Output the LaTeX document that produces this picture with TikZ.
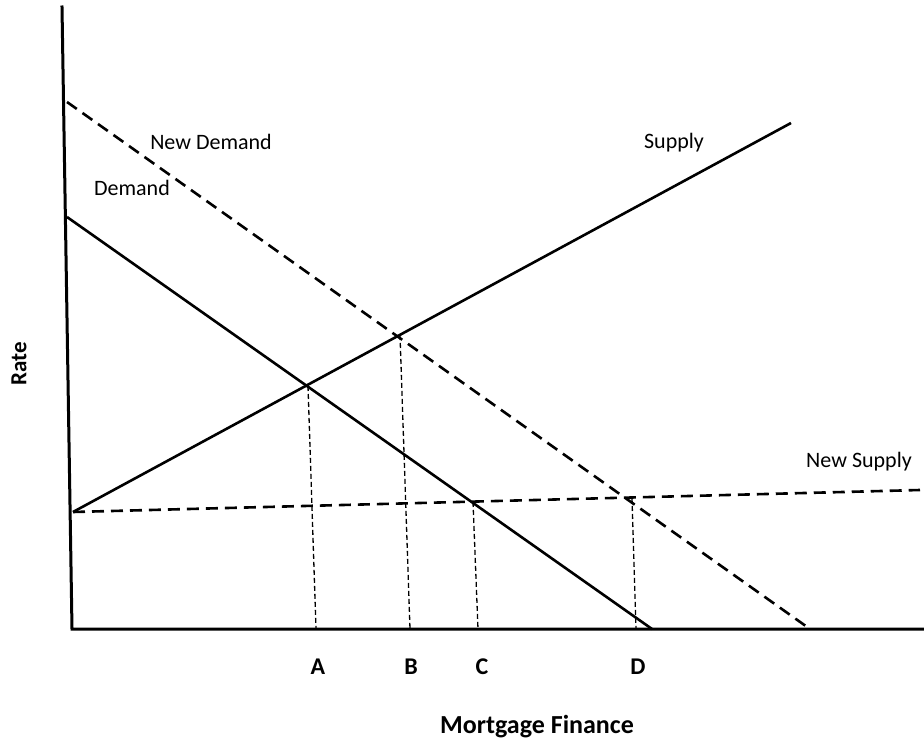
\documentclass[tikz,border=0pt]{standalone}
\usepackage{fontspec}
\setmainfont{Carlito}
\usepackage{tikz}
\tikzstyle{axis} = [line width=3pt, line cap=rect]
\tikzstyle{curve} = [line width=2.6pt]
\tikzstyle{newcurve} = [line width=2.6pt, dash pattern=on 12pt off 7pt]
\tikzstyle{guide} = [line width=1.3pt, dash pattern=on 5pt off 3pt]
\tikzstyle{tag} = [font=\fontsize{22}{26}\selectfont, inner sep=0pt]
\tikzstyle{point} = [font=\fontsize{24}{28}\selectfont\bfseries, inner sep=0pt]

\begin{document}
\begin{tikzpicture}[x=1pt, y=-1pt]
        \useasboundingbox (0,0) rectangle (924,741);
        % axes
        \coordinate (top) at (62,7);
        \coordinate (origin) at (72,629);
        \coordinate (right) at (924,629);
        \draw [axis] (top) -- (origin) -- (right);

        % end points of the four lines
        \coordinate (demand-start) at (67,217);
        \coordinate (demand-end) at (652,629);
        \coordinate (new-demand-start) at (67,102);
        \coordinate (new-demand-end) at (810,629);
        \coordinate (supply-start) at (73,512);
        \coordinate (supply-end) at (791,123);
        \coordinate (new-supply-end) at (920,490);

        \draw [curve] (demand-start) -- (demand-end);
        \draw [curve] (supply-start) -- (supply-end);
        \draw [newcurve] (new-demand-start) -- (new-demand-end);
        \draw [newcurve] (supply-start) -- (new-supply-end);

        % crossing points and their feet
        \coordinate (cross-a) at (308,386);
        \coordinate (cross-b) at (400,335);
        \coordinate (cross-c) at (473,502);
        \coordinate (cross-d) at (632,498);
        \coordinate (foot-a) at (316,629);
        \coordinate (foot-b) at (410,629);
        \coordinate (foot-c) at (478,629);
        \coordinate (foot-d) at (636,629);
        \draw [guide] (cross-a) -- (foot-a);
        \draw [guide] (cross-b) -- (foot-b);
        \draw [guide] (cross-c) -- (foot-c);
        \draw [guide] (cross-d) -- (foot-d);

        \node (new-demand-label) [tag] at (211,142) {New Demand};
        \node (demand-label) [tag] at (132,188) {Demand};
        \node (supply-label) [tag] at (674,143) {Supply};
        \node (new-supply-label) [tag] at (859,462) {New Supply};

        \node (label-a) [point] at (318,667) {A};
        \node (label-b) [point] at (411,667) {B};
        \node (label-c) [point] at (482,667) {C};
        \node (label-d) [point] at (638,667) {D};

        \node (finance) [point, font=\fontsize{26}{30}\selectfont\bfseries] at (537,727) {Mortgage Finance};
        \node (rate) [point, font=\fontsize{23}{27}\selectfont\bfseries, rotate=90] at (19,364) {Rate};
    \end{tikzpicture}
\end{document}
